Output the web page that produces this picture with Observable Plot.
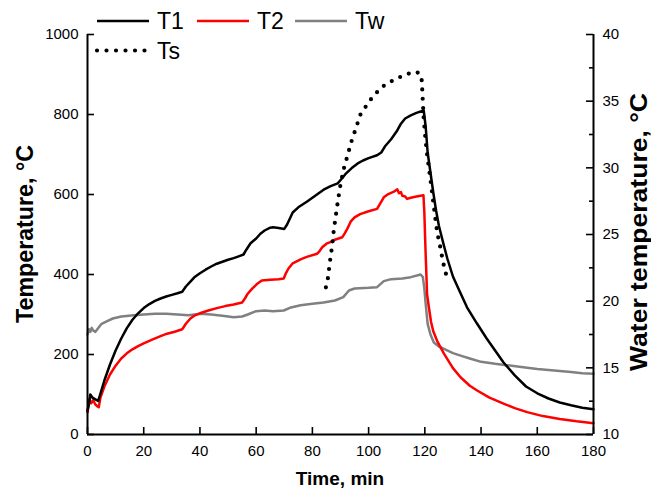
<!DOCTYPE html>
<html><head><meta charset="utf-8">
<script src="https://cdn.jsdelivr.net/npm/d3@7"></script>
<script src="https://cdn.jsdelivr.net/npm/@observablehq/plot@0.6"></script>
<style>
body{margin:0;background:#fff;}
#chart{position:relative;width:651px;height:489px;overflow:hidden;}
</style></head><body><div id="chart"></div>
<script>
// series: [time (min), value]
const seriesNames = ["T1", "T2", "Tw", "Ts"];
const t1Data = [[0,60],[0.5,75],[1,100],[1.8,92],[2.8,88],[3.8,84],[4.5,100],[6,135],[8,175],[10,210],[12,240],[14,266],[16,287],[18,303],[20,316],[22,326],[24,334],[26,340],[28,345],[30,349],[32,353],[33.7,357],[35,370],[36.6,382],[38,393],[40,403],[42,412],[44,420],[46,427],[48,432],[50,437],[52,441],[54,446],[55.5,450],[56.5,462],[58,478],[60,490],[61.5,502],[63,510],[65,517],[66,518],[68,516],[70,514],[71,525],[73,555],[75,568],[78,582],[80,592],[82,602],[84,612],[86.5,621],[89,628],[90.5,640],[92,653],[94,666],[96,677],[98,685],[100,691],[103,698],[104.5,705],[106,722],[108,738],[110,758],[111.5,777],[113,790],[115,798],[117,804],[119.6,810],[120.3,770],[121,705],[122,655],[123,605],[124,560],[125,522],[126.5,480],[128,440],[130,395],[132.5,356],[135,318],[138.5,278],[142,240],[145,210],[148,180],[152,148],[156,120],[160,103],[164,90],[168,80],[172,73],[176,67],[180,63]];
const t2Data = [[0,55],[0.6,88],[1.3,78],[2,86],[2.8,75],[3.6,70],[4,68],[4.6,92],[6,120],[8,150],[10,172],[12,190],[14,203],[16,213],[18,221],[20,228],[23,237],[26,246],[28.3,252],[31,257],[33.7,263],[35,277],[36.6,290],[38,297],[40,303],[43,310],[46,316],[49,321],[52,325],[55,330],[56,340],[57,352],[58.5,364],[60.4,377],[62,385],[65,387],[68,388],[69.8,390],[70.5,402],[71.5,415],[73,428],[75.8,438],[78,444],[81.7,452],[82.5,458],[83.5,468],[85,477],[86.4,481],[88,487],[90.6,493],[91.5,503],[92.4,514],[93.6,532],[95,543],[97,551],[100,558],[103,564],[104,576],[105.4,593],[107,601],[109,607],[110.2,613],[110.8,603],[111.5,606],[112,597],[113,595],[113.7,589],[115,592],[117,595],[119.5,598],[119.8,560],[120.2,470],[120.8,350],[121.5,315],[122.2,282],[123,258],[124.5,232],[126.8,202],[130,166],[132.7,143],[136,122],[138.6,110],[143,92],[148,77],[152,66],[156.4,56],[162,46],[168,39],[174,33],[180,28]];
const twData = [[0,17.5],[0.5,17.9],[1,17.7],[1.5,18.0],[2,17.8],[2.8,17.7],[3.5,17.9],[5,18.3],[7,18.5],[9,18.7],[12,18.85],[16.5,18.95],[20,19.0],[24,19.05],[28,19.05],[32,19.0],[36,18.95],[40,19.05],[44,19.0],[48,18.9],[52,18.8],[55,18.85],[57,19.0],[60,19.25],[63,19.3],[66,19.25],[69.8,19.3],[72,19.5],[75.8,19.7],[80,19.8],[84,19.9],[88,20.05],[91,20.3],[93,20.8],[95,20.95],[100,21.0],[103,21.05],[105.4,21.5],[108,21.65],[112,21.7],[115,21.8],[118.5,22.0],[119.3,21.8],[119.8,21.0],[120.3,19.8],[121,18.3],[122,17.5],[123.2,16.9],[125,16.6],[127,16.4],[130,16.1],[133,15.9],[136,15.7],[140,15.45],[145,15.3],[149,15.2],[155,15.05],[160,14.92],[166,14.8],[172,14.68],[176,14.6],[180,14.55]];
const tsData = [[84.8,368],[85.5,390],[86.2,430],[87,470],[87.6,510],[88.3,545],[89,580],[90,625],[91.2,665],[92.6,700],[94,735],[95.3,762],[97.1,800],[99,820],[100.7,837],[102.5,852],[104.2,865],[106,875],[107.8,882],[109.5,888],[111.3,894],[113,899],[114.9,904],[116.5,907],[117.8,904],[118.8,895],[119.1,860],[119.3,830],[119.6,790],[120.2,740],[120.8,700],[122,637],[123.2,570],[124.4,505],[125.6,465],[126.5,430],[127.4,405],[128.2,380]];

const xTicks = [0,20,40,60,80,100,120,140,160,180];
const yTicks = [0,200,400,600,800,1000];
const wMajorTicks = [10,15,20,25,30,35,40];
const wMinorTicks = [12.5,17.5,22.5,27.5,32.5,37.5];

const wMin = 10, wMax = 40;
const toLeft = w => (w - wMin) * 1000 / (wMax - wMin);

const mL = 87, mR = 58, mT = 34, mB = 55, W = 651, H = 489;
const pw = W - mL - mR, ph = H - mT - mB;

const plot = Plot.plot({
  width: W, height: H, marginLeft: mL, marginRight: mR, marginTop: mT, marginBottom: mB,
  x: {domain: [0, 180]},
  y: {domain: [0, 1000]},
  style: {fontFamily: "'Liberation Sans', Arial, sans-serif", fontSize: "15px", color: "#000", background: "#fff"},
  marks: [
    Plot.axisX(xTicks, {tickSize: 0, tickPadding: 11, label: null, fontSize: 15, tickFormat: d => String(d)}),
    Plot.axisY(yTicks, {anchor: "left", tickSize: 0, tickPadding: 9, label: null, fontSize: 15, tickFormat: d => String(d)}),
    Plot.axisY(wMajorTicks.map(toLeft), {anchor: "right", tickSize: 0, tickPadding: 9, label: null, fontSize: 15,
      tickFormat: d => String(Math.round(d * (wMax - wMin) / 1000 + wMin))}),
    Plot.tickX(xTicks, {x: d => d, insetTop: ph - 7, stroke: "#000", strokeWidth: 1.6}),
    Plot.tickY(yTicks, {y: d => d, insetRight: pw - 7, stroke: "#000", strokeWidth: 1.6}),
    Plot.tickY(wMajorTicks.map(toLeft), {y: d => d, insetLeft: pw - 7, stroke: "#000", strokeWidth: 1.6}),
    Plot.tickY(wMinorTicks.map(toLeft), {y: d => d, insetLeft: pw - 4, stroke: "#000", strokeWidth: 1.6}),
    Plot.line(twData, {x: d => d[0], y: d => toLeft(d[1]), stroke: "#808080", strokeWidth: 2.5}),
    Plot.line(t2Data, {x: d => d[0], y: d => d[1], stroke: "#ff0000", strokeWidth: 2.5}),
    Plot.line(t1Data, {x: d => d[0], y: d => d[1], stroke: "#000", strokeWidth: 2.5}),
    Plot.line(tsData, {x: d => d[0], y: d => d[1], stroke: "#000", strokeWidth: 4.2, strokeDasharray: "0 9.3", strokeLinecap: "round"}),
    Plot.ruleX([0, 180], {stroke: "#000", strokeWidth: 2}),
    Plot.ruleY([0], {stroke: "#000", strokeWidth: 2})
  ]
});
document.getElementById("chart").appendChild(plot);

const svg = d3.select(plot);
const ff = "'Liberation Sans', Arial, sans-serif";
// axis titles
svg.append("text").text("Temperature, °C")
  .attr("transform", "translate(33,234) rotate(-90)")
  .attr("text-anchor", "middle").attr("font-family", ff).attr("font-weight", "bold")
  .attr("font-size", 24).attr("fill", "#000")
  .attr("textLength", 178).attr("lengthAdjust", "spacingAndGlyphs");
svg.append("text").text("Water temperature, °C")
  .attr("transform", "translate(647,232) rotate(-90)")
  .attr("text-anchor", "middle").attr("font-family", ff).attr("font-weight", "bold")
  .attr("font-size", 23).attr("fill", "#000")
  .attr("textLength", 278).attr("lengthAdjust", "spacingAndGlyphs");
svg.append("text").text("Time, min")
  .attr("x", 340).attr("y", 485)
  .attr("text-anchor", "middle").attr("font-family", ff).attr("font-weight", "bold")
  .attr("font-size", 19).attr("fill", "#000");

// legend
const legendItems = [
  {name: seriesNames[0], color: "#000", dash: null, x: 97, y: 21},
  {name: seriesNames[1], color: "#ff0000", dash: null, x: 197, y: 21},
  {name: seriesNames[2], color: "#808080", dash: null, x: 295, y: 21},
  {name: seriesNames[3], color: "#000", dash: "0 9.5", x: 97, y: 50.5}
];
const lg = svg.append("g");
legendItems.forEach(it => {
  const ln = lg.append("line").attr("x1", it.x).attr("x2", it.x + 52).attr("y1", it.y).attr("y2", it.y)
    .attr("stroke", it.color);
  if (it.dash) ln.attr("stroke-width", 4.2).attr("stroke-dasharray", it.dash).attr("stroke-linecap", "round").attr("x2", it.x + 48);
  else ln.attr("stroke-width", 2.5);
  lg.append("text").text(it.name).attr("x", it.x + 60).attr("y", it.y + 8)
    .attr("text-anchor", "start")
    .attr("font-family", ff).attr("font-size", 23).attr("fill", "#000");
});
</script>
</body></html>
